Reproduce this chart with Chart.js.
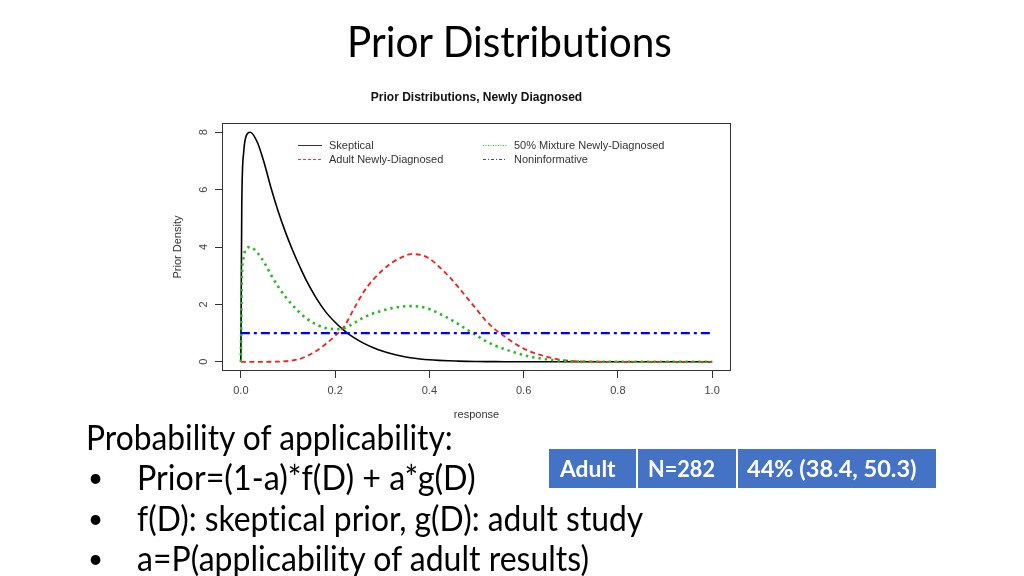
<!DOCTYPE html>
<html>
<head>
<meta charset="utf-8">
<script src="https://cdn.jsdelivr.net/npm/chart.js@4.4.1/dist/chart.umd.min.js"></script>
<style>
html, body { margin: 0; padding: 0; background: #fff; }
body { width: 1024px; height: 576px; position: relative; overflow: hidden; font-family: Lato, "Open Sans", sans-serif; color: #000; }
#chart { position: absolute; left: 0; top: 0; }
.t { position: absolute; white-space: nowrap; line-height: 1; transform-origin: 0 0; font-variant-ligatures: none; font-feature-settings: "liga" 0, "clig" 0; }
.cell { position: absolute; background: #4472C4; }
.w { color: #fff; font-weight: bold; }
</style>
</head>
<body>
<canvas id="chart" width="1024" height="576"></canvas>

<div class="t" data-x="347" data-b="56.7" data-w="325" style="font-size:43px">Prior Distributions</div>

<div class="t" data-x="86" data-b="449.5" data-w="367" style="font-size:34px">Probability of applicability:</div>
<div class="t" data-x="88" data-b="487" style="font-size:26px">•</div>
<div class="t" data-x="137" data-b="490" data-w="339" style="font-size:34px">Prior=(1-a)*f(D) + a*g(D)</div>
<div class="t" data-x="88" data-b="527.5" style="font-size:26px">•</div>
<div class="t" data-x="137" data-b="530.5" data-w="506" style="font-size:34px">f(D): skeptical prior, g(D): adult study</div>
<div class="t" data-x="88" data-b="568" style="font-size:26px">•</div>
<div class="t" data-x="137" data-b="571" data-w="452" style="font-size:34px">a=P(applicability of adult results)</div>

<div class="cell" style="left:549px;top:449px;width:87px;height:39px"></div>
<div class="cell" style="left:638px;top:449px;width:98px;height:39px"></div>
<div class="cell" style="left:738px;top:449px;width:198px;height:39px"></div>
<div class="t w" data-x="560" data-b="476.7" data-w="56" style="font-size:22px">Adult</div>
<div class="t w" data-x="648" data-b="476.7" data-w="67" style="font-size:22px">N=282</div>
<div class="t w" data-x="747" data-b="476.7" data-w="169" style="font-size:22px">44% (38.4, 50.3)</div>

<script>
// ===== data =====

const xs = [0, 0.002, 0.006, 0.012, 0.02, 0.035, 0.05, 0.065, 0.08, 0.095, 0.11, 0.125, 0.14, 0.16, 0.18, 0.2,
            0.22, 0.24, 0.26, 0.28, 0.3, 0.32, 0.34, 0.36, 0.38, 0.4, 0.42, 0.44, 0.46, 0.48, 0.5,
            0.52, 0.54, 0.56, 0.58, 0.6, 0.62, 0.64, 0.66, 0.68, 0.7, 0.72, 0.75, 0.8, 0.9, 1.0];

const skeptical = [0, 5.5, 7.3, 7.9, 8.0, 7.65, 6.9, 6.0, 5.2, 4.5, 3.88, 3.32, 2.8, 2.22, 1.74, 1.38,
                   1.08, 0.84, 0.65, 0.5, 0.38, 0.28, 0.2, 0.14, 0.1, 0.07, 0.05, 0.035, 0.025, 0.017, 0.012,
                   0.008, 0.005, 0.003, 0.002, 0.001, 0, 0, 0, 0, 0, 0, 0, 0, 0, 0];

const adult = [0, 0, 0, 0, 0, 0, 0, 0.003, 0.008, 0.02, 0.05, 0.1, 0.2, 0.38, 0.62, 0.9,
               1.25, 1.85, 2.42, 2.85, 3.18, 3.45, 3.63, 3.75, 3.73, 3.6, 3.32, 3.0, 2.63, 2.23, 1.83,
               1.43, 1.12, 0.88, 0.65, 0.46, 0.32, 0.22, 0.13, 0.07, 0.035, 0.015, 0.004, 0, 0, 0];

const mixture = [0, 2.75, 3.65, 3.95, 4.0, 3.8, 3.45, 3.0, 2.6, 2.26, 1.97, 1.71, 1.5, 1.3, 1.18, 1.14,
                 1.17, 1.35, 1.54, 1.68, 1.78, 1.87, 1.92, 1.94, 1.92, 1.84, 1.69, 1.52, 1.33, 1.12, 0.92,
                 0.72, 0.56, 0.44, 0.33, 0.23, 0.16, 0.11, 0.065, 0.035, 0.018, 0.008, 0.002, 0, 0, 0];

const noninfX = [0, 1];
const noninfY = [1, 1];

const seriesNames = ['Skeptical', 'Adult Newly-Diagnosed', '50% Mixture Newly-Diagnosed', 'Noninformative'];
const xTicks = [0, 0.2, 0.4, 0.6, 0.8, 1.0];
const yTicks = [0, 2, 4, 6, 8];

// ===== helpers =====

const pts = (xv, yv) => xv.map((x, i) => ({ x: x, y: yv[i] }));

const legendColors = ['#333', '#ee3344', '#22cc22', '#3a3aee'];
const legendDashes = [[], [3, 2], [1, 1.5], [3, 2, 1, 2]];

const rFont = '"Liberation Sans", Arial, sans-serif';

// ===== plugins =====

const rBox = {
    id: 'rBox',
    afterDatasetsDraw(chart) {
        const { ctx, chartArea: a } = chart;
        ctx.save();
        ctx.strokeStyle = '#333';
        ctx.lineWidth = 1;
        ctx.strokeRect(Math.round(a.left) + 0.5, Math.round(a.top) + 0.5,
                       Math.round(a.width) - 1, Math.round(a.height) - 1);
        ctx.restore();
    }
};

const rLegend = {
    id: 'rLegend',
    afterDraw(chart) {
        const { ctx, chartArea: a } = chart;
        ctx.save();
        ctx.font = '11px ' + rFont;
        ctx.textBaseline = 'middle';
        chart.data.datasets.forEach((ds, i) => {
            const col = Math.floor(i / 2), row = i % 2;
            const x0 = a.left + 76 + col * 185;
            const y = a.top + 22.5 + row * 14;
            ctx.strokeStyle = legendColors[i];
            ctx.lineWidth = 1;
            ctx.setLineDash(legendDashes[i]);
            ctx.beginPath();
            ctx.moveTo(x0, y);
            ctx.lineTo(x0 + 24, y);
            ctx.stroke();
            ctx.setLineDash([]);
            ctx.fillStyle = '#333';
            ctx.fillText(ds.label, x0 + 31, y);
        });
        ctx.restore();
    }
};

// ===== chart =====

new Chart(document.getElementById('chart'), {
    type: 'line',
    data: {
        datasets: [
            { label: seriesNames[0], data: pts(xs, skeptical), borderColor: '#000', borderWidth: 1.6, order: 3 },
            { label: seriesNames[1], data: pts(xs, adult), borderColor: '#ee2222', borderWidth: 1.8,
              borderDash: [5, 3.5], order: 2 },
            { label: seriesNames[2], data: pts(xs, mixture), borderColor: '#22bb22', borderWidth: 2.6,
              borderDash: [2.4, 4], order: 1 },
            { label: seriesNames[3], data: pts(noninfX, noninfY), borderColor: '#0000ee', borderWidth: 2.4,
              borderDash: [9, 4, 3, 4], order: 0 }
        ]
    },
    options: {
        responsive: false,
        animation: false,
        devicePixelRatio: 1,
        events: [],
        elements: {
            point: { radius: 0 },
            line: { cubicInterpolationMode: 'monotone', fill: false }
        },
        layout: { padding: { left: 160, right: 293, top: 80, bottom: 150 } },
        plugins: {
            legend: { display: false },
            tooltip: { enabled: false },
            title: {
                display: true,
                fullSize: false,
                text: 'Prior Distributions, Newly Diagnosed',
                color: '#111',
                font: { family: rFont, size: 12, weight: 'bold' },
                padding: { top: 10.4, bottom: 18.2 }
            }
        },
        scales: {
            x: {
                type: 'linear',
                min: -0.04,
                max: 1.04,
                afterBuildTicks: s => { s.ticks = xTicks.map(v => ({ value: v })); },
                afterFit: s => { s.height = 55; },
                border: { display: false },
                grid: { drawOnChartArea: false, drawTicks: true, tickLength: 7, color: '#333' },
                ticks: {
                    color: '#444', padding: 6, maxRotation: 0,
                    font: { family: rFont, size: 11 },
                    callback: v => v.toFixed(1)
                },
                title: {
                    display: true, text: 'response', color: '#333',
                    font: { family: rFont, size: 11 },
                    padding: { top: 0, bottom: 4 }
                }
            },
            y: {
                type: 'linear',
                min: -0.32,
                max: 8.32,
                afterBuildTicks: s => { s.ticks = yTicks.map(v => ({ value: v })); },
                afterFit: s => { s.width = 62; },
                border: { display: false },
                grid: { drawOnChartArea: false, drawTicks: true, tickLength: 7, color: '#333' },
                ticks: {
                    color: '#444', padding: 8, minRotation: 90, maxRotation: 90, crossAlign: 'center',
                    font: { family: rFont, size: 11 },
                    callback: v => String(v)
                },
                title: {
                    display: true, text: 'Prior Density', color: '#333',
                    font: { family: rFont, size: 11 },
                    padding: { top: 11.4, bottom: 0 }
                }
            }
        }
    },
    plugins: [rBox, rLegend]
});

// ===== slide text placement =====

function placeText() {
    document.querySelectorAll('.t').forEach(el => {
        const probe = document.createElement('span');
        probe.style.cssText = 'display:inline-block;width:0;height:0;vertical-align:baseline';
        el.appendChild(probe);
        el.style.left = el.dataset.x + 'px';
        el.style.top = '0px';
        const base = probe.offsetTop;
        el.style.top = (Number(el.dataset.b) - base) + 'px';
        if (el.dataset.w) {
            const s = Number(el.dataset.w) / el.offsetWidth;
            el.style.transform = 'scaleX(' + s.toFixed(4) + ')';
        }
    });
}

if (document.fonts && document.fonts.ready) document.fonts.ready.then(placeText);
else placeText();
</script>
</body>
</html>
